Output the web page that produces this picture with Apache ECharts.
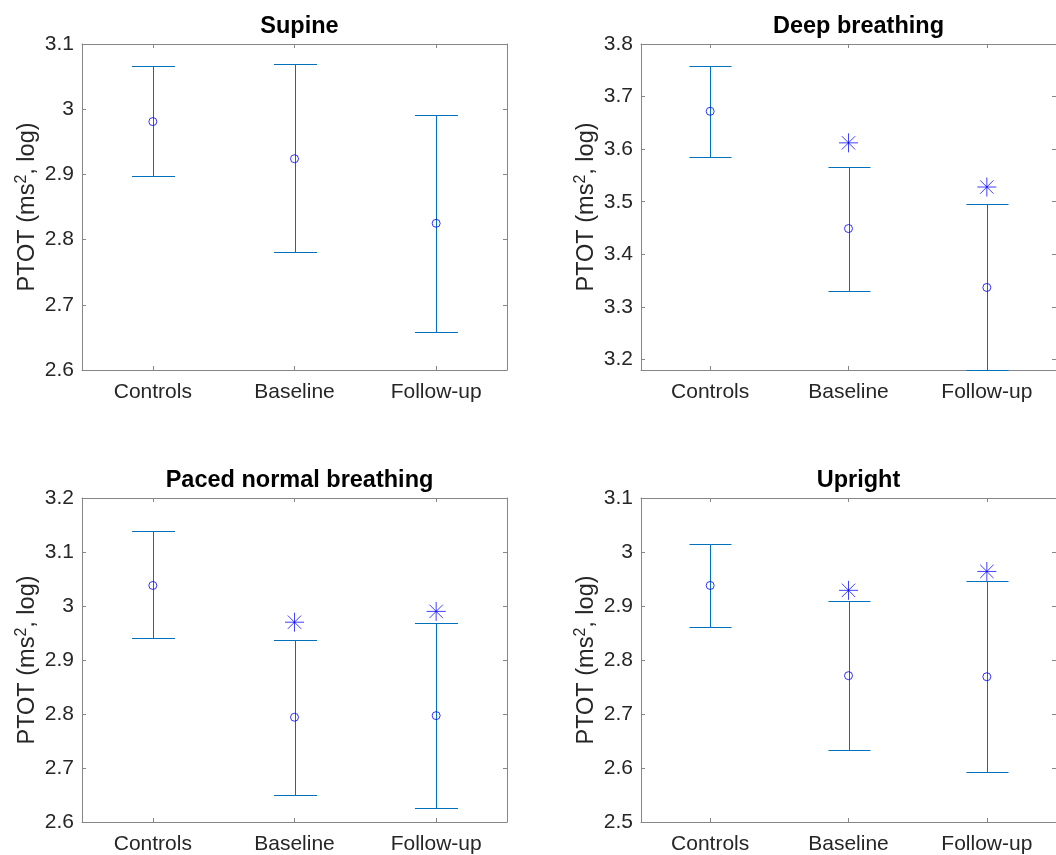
<!DOCTYPE html>
<html>
<head>
<meta charset="utf-8">
<script src="https://cdn.jsdelivr.net/npm/echarts@6/dist/echarts.min.js"></script>
<style>
html,body{margin:0;padding:0;background:#fff;}
#chart{width:1056px;height:855px;}
</style>
</head>
<body>
<div id="chart"></div>
<script>
const categories = ['Controls', 'Baseline', 'Follow-up'];
const panelTitles = ['Supine', 'Deep breathing', 'Paced normal breathing', 'Upright'];
const yAxisTitle = 'PTOT (ms2, log)';

const supineMean = [2.981, 2.924, 2.825];
const supineLow  = [2.897, 2.781, 2.659];
const supineHigh = [3.066, 3.069, 2.991];
const supineStar = [null, null, null];

const deepMean = [3.672, 3.449, 3.337];
const deepLow  = [3.586, 3.331, 3.180];
const deepHigh = [3.759, 3.567, 3.495];
const deepStar = [null, 3.612, 3.528];

const pacedMean = [3.038, 2.794, 2.797];
const pacedLow  = [2.940, 2.650, 2.626];
const pacedHigh = [3.138, 2.937, 2.968];
const pacedStar = [null, 2.970, 2.990];

const uprightMean = [2.938, 2.771, 2.769];
const uprightLow  = [2.861, 2.633, 2.592];
const uprightHigh = [3.015, 2.909, 2.946];
const uprightStar = [null, 2.929, 2.964];

const supineTicks  = [2.6, 2.7, 2.8, 2.9, 3, 3.1];
const deepTicks    = [3.2, 3.3, 3.4, 3.5, 3.6, 3.7, 3.8];
const pacedTicks   = [2.6, 2.7, 2.8, 2.9, 3, 3.1, 3.2];
const uprightTicks = [2.5, 2.6, 2.7, 2.8, 2.9, 3, 3.1];

const supineRange  = [2.6, 3.1];
const deepRange    = [3.18, 3.8];
const pacedRange   = [2.6, 3.2];
const uprightRange = [2.5, 3.1];

const panels = [
  {mean: supineMean, low: supineLow, high: supineHigh, star: supineStar, ticks: supineTicks, range: supineRange},
  {mean: deepMean, low: deepLow, high: deepHigh, star: deepStar, ticks: deepTicks, range: deepRange},
  {mean: pacedMean, low: pacedLow, high: pacedHigh, star: pacedStar, ticks: pacedTicks, range: pacedRange},
  {mean: uprightMean, low: uprightLow, high: uprightHigh, star: uprightStar, ticks: uprightTicks, range: uprightRange}
];

const FONT = 'Liberation Sans, Arial, Helvetica, sans-serif';
const AXIS_COLOR = '#868686';
const TEXT_COLOR = '#262626';
const BAR_COLOR = '#0072BD';
const MARK_COLOR = '#0000FF';

const gridBoxes = [
  {left: 82, top: 44, width: 425, height: 326},
  {left: 641, top: 44, width: 425, height: 326},
  {left: 82, top: 498, width: 425, height: 325},
  {left: 641, top: 498, width: 425, height: 325}
];

const option = {
  backgroundColor: '#fff',
  animation: false,
  title: [], grid: [], xAxis: [], yAxis: [], series: []
};

function errRender(params, api) {
  const x = api.value(0), lo = api.value(1), hi = api.value(2);
  const pLo = api.coord([x, lo]);
  const pHi = api.coord([x, hi]);
  const hw = api.size([1, 0])[0] * 0.152;
  const cx = Math.round(pLo[0]) + 0.5;
  const yl = Math.round(pLo[1]) + 0.5;
  const yh = Math.round(pHi[1]) + 0.5;
  const st = {stroke: BAR_COLOR, lineWidth: 1, fill: null};
  return {type: 'group', children: [
    {type: 'line', shape: {x1: cx, y1: yh, x2: cx, y2: yl}, style: st},
    {type: 'line', shape: {x1: cx - hw, y1: yh, x2: cx + hw, y2: yh}, style: st},
    {type: 'line', shape: {x1: cx - hw, y1: yl, x2: cx + hw, y2: yl}, style: st}
  ]};
}

function starRender(params, api) {
  const p = api.coord([api.value(0), api.value(1)]);
  const r = 9.5, d = 6.7;
  const st = {stroke: MARK_COLOR, lineWidth: 1, fill: null, opacity: 0.75};
  const x = p[0], y = p[1];
  return {type: 'group', children: [
    {type: 'line', shape: {x1: x, y1: y - r, x2: x, y2: y + r}, style: st},
    {type: 'line', shape: {x1: x - r, y1: y, x2: x + r, y2: y}, style: st},
    {type: 'line', shape: {x1: x - d, y1: y - d, x2: x + d, y2: y + d}, style: st},
    {type: 'line', shape: {x1: x - d, y1: y + d, x2: x + d, y2: y - d}, style: st}
  ]};
}

panels.forEach((pn, i) => {
  const g = gridBoxes[i];
  option.grid.push(Object.assign({containLabel: false}, g));
  option.title.push({
    text: panelTitles[i],
    left: g.left + g.width / 2,
    top: g.top - 34,
    textAlign: 'center',
    textStyle: {fontSize: 23.5, fontWeight: 'bold', color: '#000', fontFamily: FONT}
  });
  option.xAxis.push({
    type: 'category', gridIndex: i, data: categories, position: 'bottom', boundaryGap: true,
    axisLine: {show: true, lineStyle: {color: AXIS_COLOR, width: 1}},
    axisTick: {show: true, inside: true, length: 4, alignWithLabel: true, lineStyle: {color: AXIS_COLOR}},
    axisLabel: {show: true, margin: 12, fontSize: 21, color: TEXT_COLOR, fontFamily: FONT},
    splitLine: {show: false}
  });
  option.xAxis.push({
    type: 'category', gridIndex: i, data: categories, position: 'top', boundaryGap: true,
    axisLine: {show: true, lineStyle: {color: AXIS_COLOR, width: 1}},
    axisTick: {show: true, inside: true, length: 4, alignWithLabel: true, lineStyle: {color: AXIS_COLOR}},
    axisLabel: {show: false}, splitLine: {show: false}
  });
  option.yAxis.push({
    type: 'value', gridIndex: i, position: 'left', min: pn.range[0], max: pn.range[1],
    name: '{a|PTOT (ms}{s|2}{a|, log)}',
    nameLocation: 'middle', nameGap: 40,
    nameTextStyle: {
      rich: {
        a: {fontSize: 23.5, fontFamily: FONT, color: TEXT_COLOR, lineHeight: 28},
        s: {fontSize: 16, fontFamily: FONT, color: TEXT_COLOR, lineHeight: 14, verticalAlign: 'top'}
      }
    },
    axisLine: {show: true, lineStyle: {color: AXIS_COLOR, width: 1}},
    axisTick: {show: true, inside: true, length: 4, customValues: pn.ticks, lineStyle: {color: AXIS_COLOR}},
    axisLabel: {show: true, margin: 8, fontSize: 21, color: TEXT_COLOR, fontFamily: FONT, customValues: pn.ticks, showMinLabel: true, showMaxLabel: true},
    splitLine: {show: false}
  });
  option.yAxis.push({
    type: 'value', gridIndex: i, position: 'right', min: pn.range[0], max: pn.range[1],
    axisLine: {show: true, lineStyle: {color: AXIS_COLOR, width: 1}},
    axisTick: {show: true, inside: true, length: 4, customValues: pn.ticks, lineStyle: {color: AXIS_COLOR}},
    axisLabel: {show: false}, splitLine: {show: false}
  });
  const xi = i * 2, yi = i * 2;
  option.series.push({
    type: 'custom', xAxisIndex: xi, yAxisIndex: yi, clip: false,
    renderItem: errRender,
    encode: {x: 0, y: [1, 2]},
    data: categories.map((c, k) => [k, pn.low[k], pn.high[k]]),
    z: 2
  });
  option.series.push({
    type: 'scatter', xAxisIndex: xi, yAxisIndex: yi,
    symbol: 'circle', symbolSize: 8,
    itemStyle: {color: 'rgba(0,0,0,0)', borderColor: MARK_COLOR, borderWidth: 1, opacity: 0.8},
    data: categories.map((c, k) => [k, pn.mean[k]]),
    z: 3
  });
  const stars = [];
  pn.star.forEach((v, k) => { if (v !== null) stars.push([k, v]); });
  option.series.push({
    type: 'custom', xAxisIndex: xi, yAxisIndex: yi, clip: false,
    renderItem: starRender,
    encode: {x: 0, y: 1},
    data: stars,
    z: 3
  });
});

const chart = echarts.init(document.getElementById('chart'), null, {renderer: 'canvas'});
chart.setOption(option);
</script>
</body>
</html>
